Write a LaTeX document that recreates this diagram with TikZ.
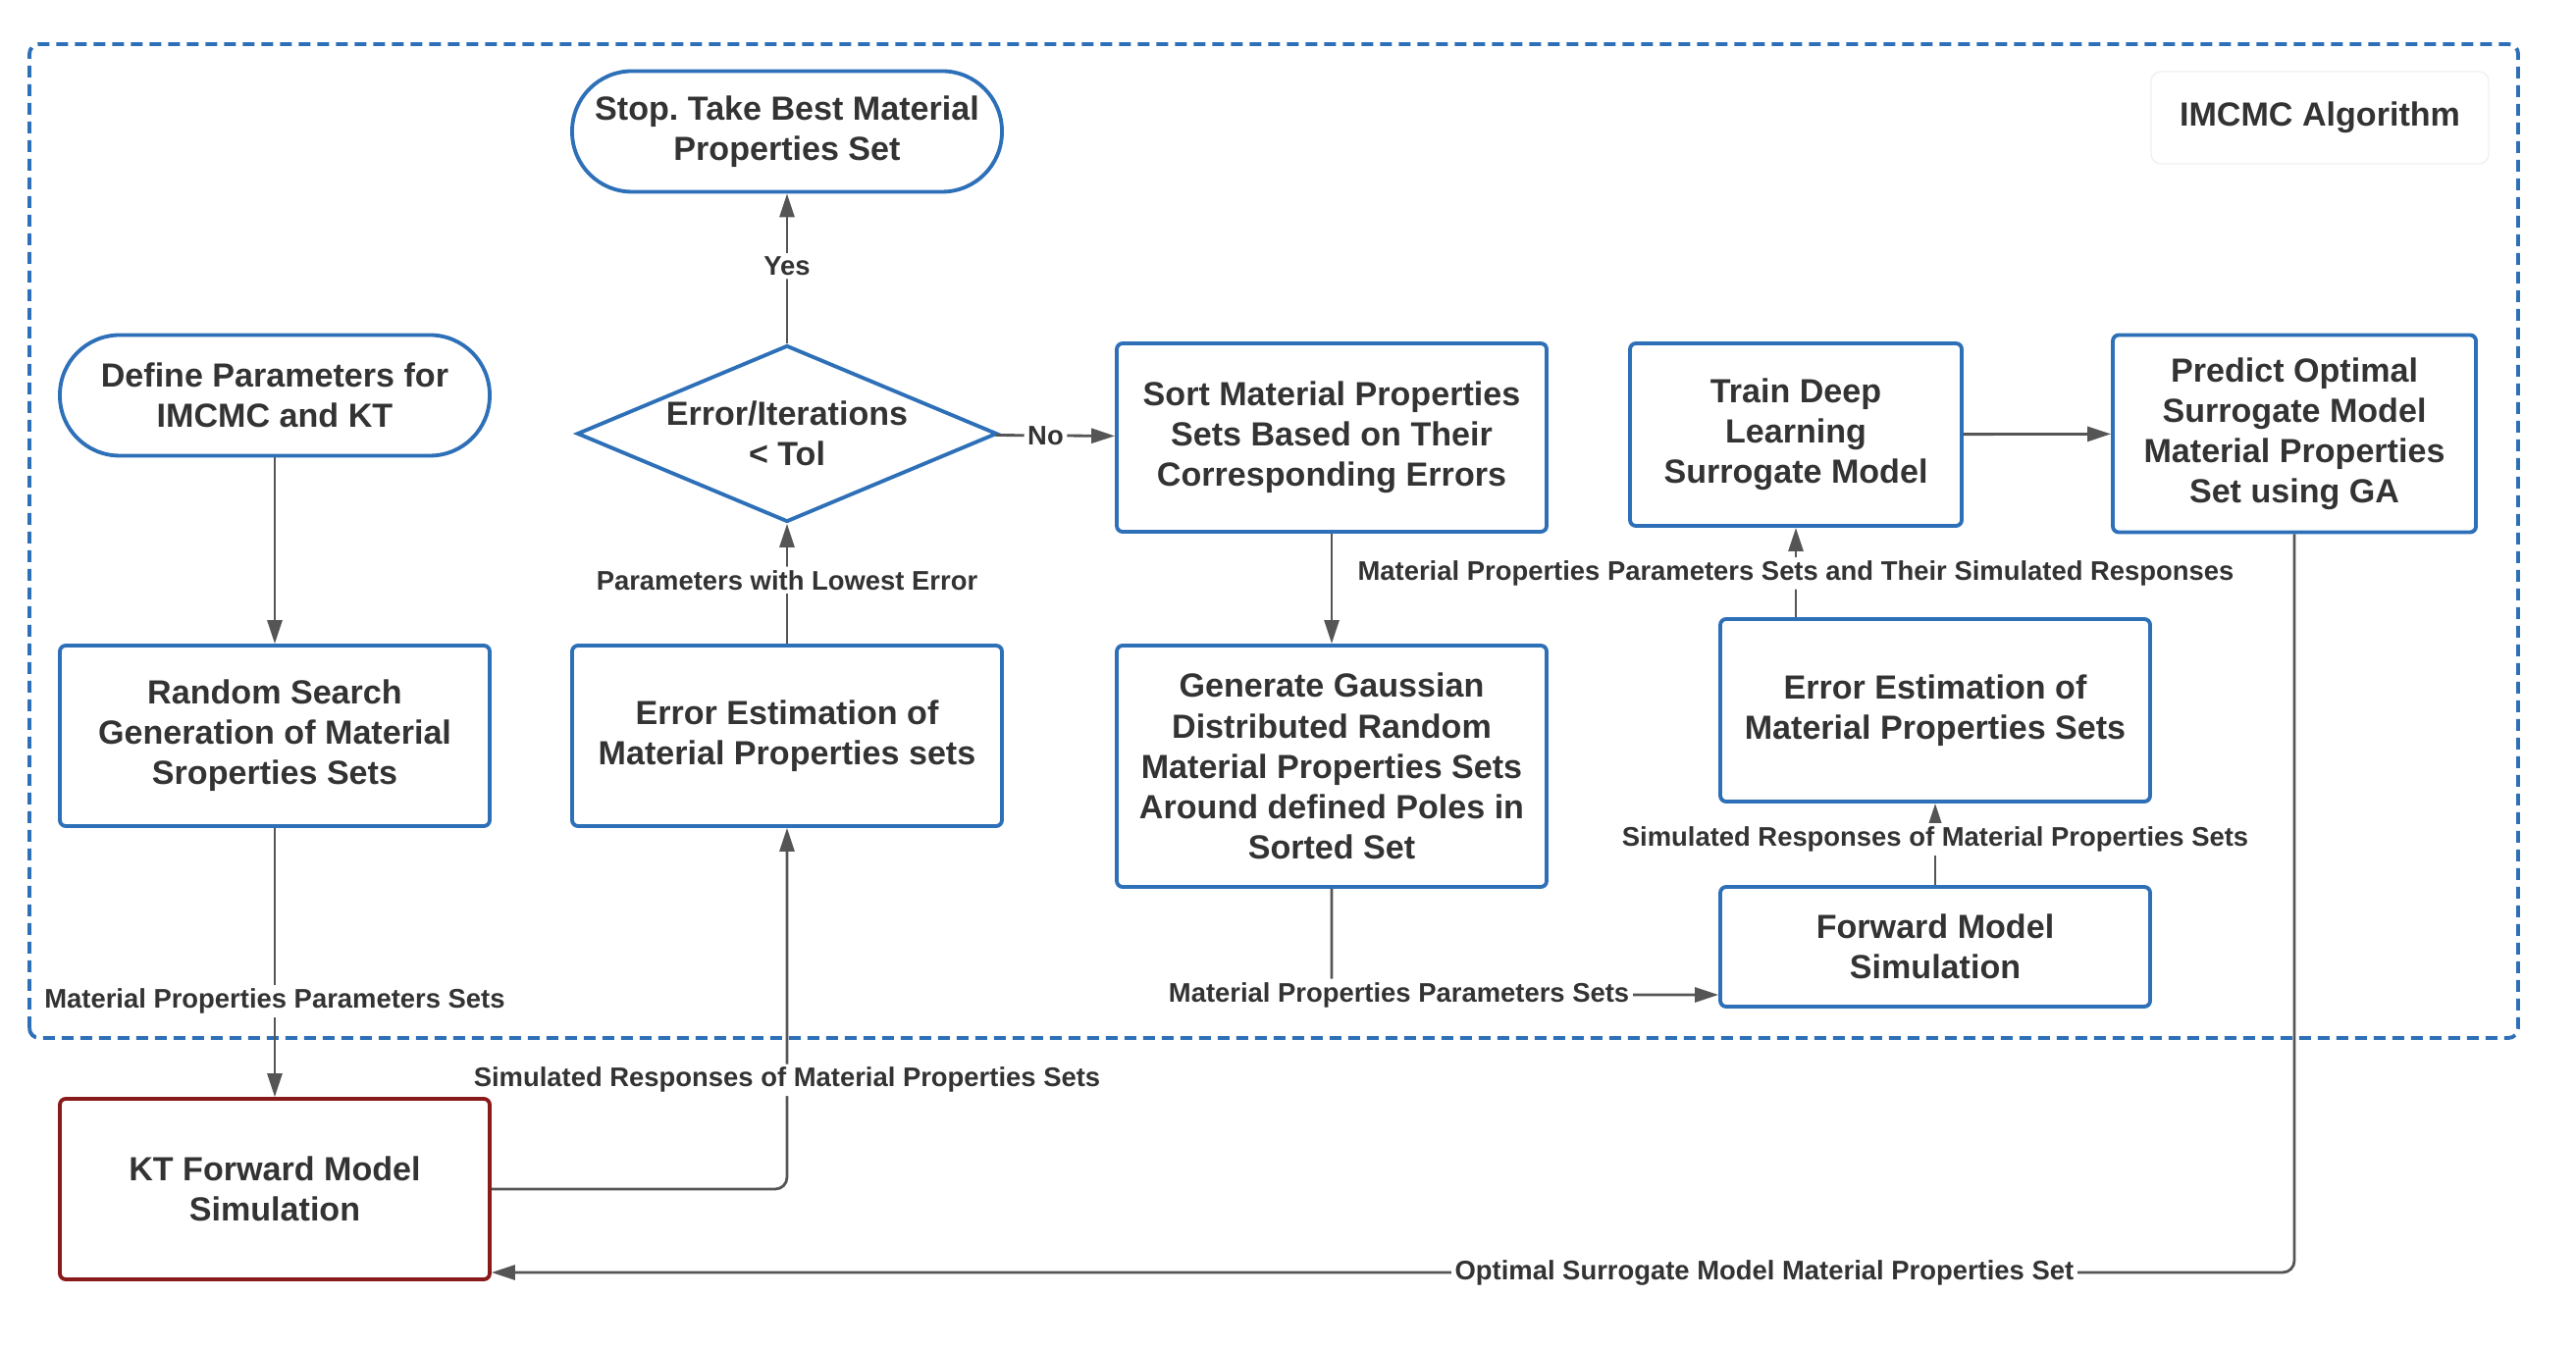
\documentclass[tikz,border=0pt]{standalone}
\usepackage{fontspec}
\setmainfont{Liberation Sans}
\usetikzlibrary{arrows.meta, shapes.geometric}
\definecolor{boxblue}{RGB}{46,112,184}
\definecolor{ktred}{RGB}{138,26,26}
\definecolor{txtgray}{RGB}{51,51,51}
\definecolor{linegray}{RGB}{85,85,85}
\frenchspacing

\begin{document}
\begin{tikzpicture}[font = \bfseries\fontsize{9.7}{11.7}\selectfont, text = txtgray,
    box/.style = {draw=boxblue, line width=1.1pt, rounded corners=0.06cm, align=center,
                  inner sep=0pt, minimum width=4.38cm, minimum height=1.84cm},
    term/.style = {box, rounded corners=0.61cm, minimum height=1.23cm},
    dec/.style = {draw=boxblue, line width=1.1pt, diamond, aspect=2.38, align=center,
                  inner sep=0pt, minimum width=4.28cm, minimum height=1.8cm},
    arr/.style = {draw=linegray, line width=0.8pt, rounded corners=0.12cm,
                  -{Triangle[length=0.24cm, width=0.15cm]}},
    lbl/.style = {font=\bfseries\fontsize{7.8}{9}\selectfont, fill=white, inner sep=1pt}]
\useasboundingbox (0,0) rectangle (26.25,13.74);
\draw[boxblue, line width=1.1pt, dash pattern=on 0.12cm off 0.07cm, rounded corners=0.1cm]
    (0.30,3.16) rectangle (25.66,13.29);
\node[draw=black!6, rounded corners=0.1cm, minimum width=3.44cm, minimum height=0.94cm]
    (title) at (23.64,12.54) {IMCMC Algorithm};

\node[term] (stop) at (8.02,12.40) {Stop. Take Best Material\\Properties Set};
\node[term] (define) at (2.80,9.71) {Define Parameters for\\IMCMC and KT};
\node[dec] (tol) at (8.02,9.32) {Error/Iterations\\< Tol};
\node[box, minimum height=1.92cm] (sort) at (13.57,9.28)
    {Sort Material Properties\\Sets Based on Their\\Corresponding Errors};
\node[box, minimum width=3.38cm, minimum height=1.86cm] (train) at (18.30,9.31)
    {Train Deep\\Learning\\Surrogate Model};
\node[box, minimum width=3.70cm, minimum height=2.01cm] (predict) at (23.38,9.32)
    {Predict Optimal\\Surrogate Model\\Material Properties\\Set using GA};
\node[box] (random) at (2.80,6.24) {Random Search\\Generation of Material\\Sroperties Sets};
\node[box] (errl) at (8.02,6.24) {Error Estimation of\\Material Properties sets};
\node[box, minimum height=2.46cm] (gauss) at (13.57,5.93)
    {Generate Gaussian\\Distributed Random\\Material Properties Sets\\Around defined Poles in\\Sorted Set};
\node[box, minimum height=1.86cm] (errr) at (19.72,6.50) {Error Estimation of\\Material Properties Sets};
\node[box, minimum height=1.22cm] (fwd) at (19.72,4.09) {Forward Model\\Simulation};
\node[box, draw=ktred] (kt) at (2.80,1.62) {KT Forward Model\\Simulation};

\draw[arr] (define) -- (random);
\draw[arr] (random) -- (kt) node[lbl, pos=0.644] {Material Properties Parameters Sets};
\draw[arr] (kt.east) -| (errl.south)
    node[lbl, pos=0.651] {Simulated Responses of Material Properties Sets};
\draw[arr] (errl) -- (tol) node[lbl, pos=0.53] {Parameters with Lowest Error};
\draw[arr] (tol) -- (stop) node[lbl, pos=0.516] {Yes};
\draw[arr] (tol) -- (sort) node[lbl, pos=0.42] {No};
\draw[arr] (sort) -- (gauss);
\draw[arr] (gauss.south) |- ([yshift=-0.49cm]fwd.west)
    node[lbl, pos=0.587] {Material Properties Parameters Sets};
\draw[arr] (fwd) -- (errr) node[lbl, pos=0.56] {Simulated Responses of Material Properties Sets};
\draw[arr] (errr.north -| train) -- (train)
    node[lbl, pos=0.49] {Material Properties Parameters Sets and Their Simulated Responses};
\draw[arr] (train) -- (predict);
\draw[arr] (predict.south) |- ([yshift=-0.85cm]kt.east)
    node[lbl, pos=0.647] {Optimal Surrogate Model Material Properties Set};
\end{tikzpicture}
\end{document}
